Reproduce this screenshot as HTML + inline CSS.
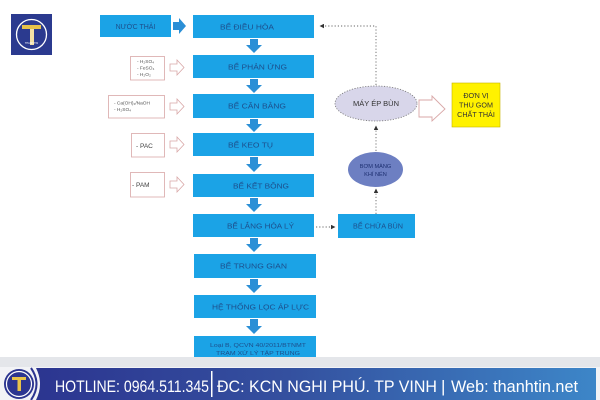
<!DOCTYPE html>
<html><head><meta charset="utf-8"><style>
html,body{margin:0;padding:0;background:#fff;}
svg{display:block;}
text{font-family:"Liberation Sans",sans-serif;}
</style></head><body>
<svg width="600" height="400" viewBox="0 0 600 400" xmlns="http://www.w3.org/2000/svg">
<defs>
<linearGradient id="fg" x1="0" y1="0" x2="1" y2="0">
<stop offset="0" stop-color="#2c3590"/>
<stop offset="0.45" stop-color="#34509f"/>
<stop offset="1" stop-color="#3d86c8"/>
</linearGradient>
<marker id="ah" viewBox="0 0 10 10" refX="9" refY="5" markerWidth="5" markerHeight="5" orient="auto">
<path d="M0,0 L10,5 L0,10 z" fill="#333"/>
</marker>
</defs>
<rect width="600" height="400" fill="#fff"/>

<!-- top-left logo -->
<rect x="11" y="14" width="41" height="41" fill="#2b3a8f"/>
<circle cx="31.5" cy="34.5" r="15" fill="none" stroke="#fff" stroke-width="1.3"/>
<path d="M22,25 L41,25 L41,29 L34,29 L34,45 L30,45 L30,29 L22,29 z" fill="#e8c34a"/>
<path d="M30,29 L34,29 L34,45 L30,45 z" fill="#fff" opacity="0.5"/>
<text x="31.5" y="44" font-size="2.5" fill="#fff" text-anchor="middle">THANH TIN</text>

<!-- input -->
<rect x="100" y="15" width="71" height="22" fill="#1ba3e6"/>
<text x="135.5" y="29" font-size="7" fill="#1d4f8c" text-anchor="middle">NƯỚC THẢI</text>
<path d="M173,22 L179,22 L179,18 L186,26 L179,34 L179,30 L173,30 z" fill="#2b8fd6"/>

<!-- main boxes -->
<g fill="#1ba3e6">
<rect x="193" y="15" width="121" height="23"/>
<rect x="193" y="55" width="121" height="23"/>
<rect x="193" y="94" width="121" height="24"/>
<rect x="193" y="133" width="121" height="23"/>
<rect x="193" y="174" width="121" height="23"/>
<rect x="193" y="214" width="121" height="23"/>
<rect x="194" y="254" width="122" height="24"/>
<rect x="194" y="295" width="122" height="23"/>
<rect x="194" y="336" width="122" height="24"/>
</g>
<g font-size="7.2" fill="#1d4f8c">
<text x="220" y="29.5" textLength="54" lengthAdjust="spacingAndGlyphs">BỂ ĐIỀU HÒA</text>
<text x="228" y="69.5" textLength="59" lengthAdjust="spacingAndGlyphs">BỂ PHẢN ỨNG</text>
<text x="228" y="108.5" textLength="58" lengthAdjust="spacingAndGlyphs">BỂ CÂN BẰNG</text>
<text x="228" y="147.5" textLength="45" lengthAdjust="spacingAndGlyphs">BỂ KEO TỤ</text>
<text x="233" y="188.5" textLength="56" lengthAdjust="spacingAndGlyphs">BỂ KẾT BÔNG</text>
<text x="227" y="228.5" textLength="67" lengthAdjust="spacingAndGlyphs">BỂ LẮNG HÓA LÝ</text>
<text x="220" y="268.5" textLength="67" lengthAdjust="spacingAndGlyphs">BỂ TRUNG GIAN</text>
<text x="212" y="309.5" textLength="97" lengthAdjust="spacingAndGlyphs">HỆ THỐNG LỌC ÁP LỰC</text>
</g>
<g font-size="5.5" fill="#1d4f8c">
<text x="210" y="347" textLength="96" lengthAdjust="spacingAndGlyphs">Loại B, QCVN 40/2011/BTNMT</text>
<text x="216" y="355" textLength="84" lengthAdjust="spacingAndGlyphs">TRẠM XỬ LÝ TẬP TRUNG</text>
</g>

<!-- down arrows -->
<g fill="#2b8fd6">
<path d="M250,39 L258,39 L258,45 L262,45 L254,53 L246,45 L250,45 z"/>
<path d="M250,79 L258,79 L258,85 L262,85 L254,93 L246,85 L250,85 z"/>
<path d="M250,119 L258,119 L258,124 L262,124 L254,132 L246,124 L250,124 z"/>
<path d="M250,157 L258,157 L258,164 L262,164 L254,172 L246,164 L250,164 z"/>
<path d="M250,198 L258,198 L258,204 L262,204 L254,212 L246,204 L250,204 z"/>
<path d="M250,238 L258,238 L258,244 L262,244 L254,252 L246,244 L250,244 z"/>
<path d="M250,279 L258,279 L258,285 L262,285 L254,293 L246,285 L250,285 z"/>
<path d="M250,319 L258,319 L258,326 L262,326 L254,334 L246,326 L250,326 z"/>
</g>

<!-- chemical boxes -->
<g fill="#fff" stroke="#d9a7a7" stroke-width="0.8">
<rect x="130.5" y="56.5" width="34" height="23.5"/>
<rect x="108.5" y="95.5" width="56" height="22.5"/>
<rect x="131.5" y="133.5" width="33" height="23.5"/>
<rect x="130.5" y="172.5" width="34" height="24.5"/>
</g>
<g font-size="4.8" fill="#555">
<text x="137" y="63">- H₂SO₄</text>
<text x="137" y="69.5">- FeSO₄</text>
<text x="137" y="76">- H₂O₂</text>
<text x="114" y="104.5">- Ca(OH)₂/NaOH</text>
<text x="114" y="111">- H₂SO₄</text>
</g>
<g font-size="6.5" fill="#444">
<text x="136" y="148">- PAC</text>
<text x="132" y="187">- PAM</text>
</g>
<g fill="#fff" stroke="#d9a7a7" stroke-width="0.8">
<path d="M170,64 L177,64 L177,60 L184,67.5 L177,75 L177,71 L170,71 z"/>
<path d="M170,103 L177,103 L177,99 L184,106.5 L177,114 L177,110 L170,110 z"/>
<path d="M170,141 L177,141 L177,137 L184,144.5 L177,152 L177,148 L170,148 z"/>
<path d="M170,181 L177,181 L177,177 L184,184.5 L177,192 L177,188 L170,188 z"/>
</g>

<!-- right side -->
<g stroke="#666" stroke-width="0.9" stroke-dasharray="1.2,2" fill="none">
<path d="M376,85 L376,26 L320,26" marker-end="url(#ah)"/>
<path d="M376,151 L376,126" marker-end="url(#ah)"/>
<path d="M376,214 L376,189" marker-end="url(#ah)"/>
<path d="M316,227 L335,227" marker-end="url(#ah)"/>
</g>
<ellipse cx="376" cy="103.5" rx="41" ry="17.5" fill="#d8d6ea" stroke="#777" stroke-width="0.8" stroke-dasharray="1.2,1.5"/>
<text x="376" y="106" font-size="7.5" fill="#333" text-anchor="middle">MÁY ÉP BÙN</text>
<path d="M419,100 L432,100 L432,96 L445,109 L432,121 L432,117 L419,117 z" fill="#fff" stroke="#d9a7a7" stroke-width="0.9"/>
<rect x="452" y="83" width="48" height="44" fill="#fff200" stroke="#c9b400" stroke-width="0.6"/>
<g font-size="7.2" fill="#333" text-anchor="middle">
<text x="476" y="98">ĐƠN VỊ</text>
<text x="476" y="107.5">THU GOM</text>
<text x="476" y="117">CHẤT THẢI</text>
</g>
<ellipse cx="375.5" cy="169.5" rx="27.5" ry="17.5" fill="#6d7fc2"/>
<g font-size="5.6" fill="#1d2f70" text-anchor="middle">
<text x="375.5" y="168">BƠM MÀNG</text>
<text x="375.5" y="176">KHÍ NÉN</text>
</g>
<rect x="338" y="214" width="77" height="24" fill="#1ba3e6"/>
<text x="353" y="228.5" font-size="7.2" fill="#1d4f8c" textLength="50" lengthAdjust="spacingAndGlyphs">BỂ CHỨA BÙN</text>

<!-- footer -->
<rect x="0" y="357" width="600" height="10" fill="#e4e6ea"/>
<rect x="0" y="367" width="600" height="33" fill="#f2f3f6"/>
<path d="M36,368 L596,368 L596,400 L36,400 Q44,384 36,368 z" fill="url(#fg)"/>
<path d="M31,368 Q42,384 31,400" fill="none" stroke="#2c3590" stroke-width="2"/>
<circle cx="19" cy="384" r="15" fill="#2c3590"/>
<circle cx="19" cy="384" r="12.5" fill="none" stroke="#fff" stroke-width="1.2"/>
<path d="M12,377 L26,377 L26,380 L21,380 L21,391 L17.5,391 L17.5,380 L12,380 z" fill="#e8c34a"/>
<text x="55" y="392" font-size="17" fill="#fff" textLength="154" lengthAdjust="spacingAndGlyphs">HOTLINE: 0964.511.345</text>
<rect x="211" y="371" width="1.5" height="26" fill="#fff"/>
<text x="217" y="392" font-size="17" fill="#fff" textLength="220" lengthAdjust="spacingAndGlyphs">ĐC: KCN NGHI PHÚ. TP VINH</text>
<text x="441" y="392" font-size="17" fill="#fff">|</text>
<text x="451" y="392" font-size="17" fill="#fff" textLength="127" lengthAdjust="spacingAndGlyphs">Web: thanhtin.net</text>
</svg>
</body></html>
